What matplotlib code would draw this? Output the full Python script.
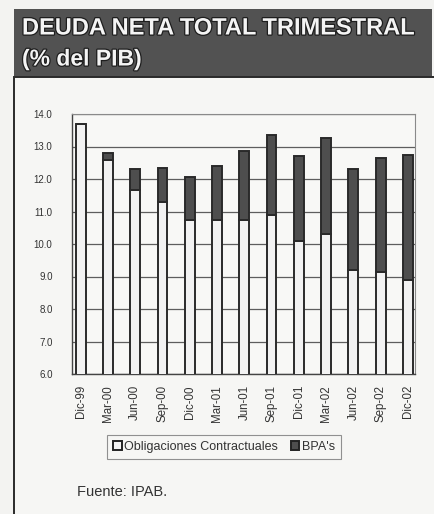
import numpy as np
import matplotlib.pyplot as plt
import matplotlib.patheffects as pe
from matplotlib.patches import Rectangle, Patch

plt.rcParams['font.family'] = ['Liberation Sans', 'DejaVu Sans']

# ── data ──────────────────────────────────────────────────────────────────
categories = ['Dic-99', 'Mar-00', 'Jun-00', 'Sep-00', 'Dic-00', 'Mar-01',
              'Jun-01', 'Sep-01', 'Dic-01', 'Mar-02', 'Jun-02', 'Sep-02',
              'Dic-02']
obligaciones = [13.7, 12.6, 11.65, 11.3, 10.75, 10.75, 10.75, 10.9, 10.1,
                10.3, 9.2, 9.15, 8.9]
bpas = [0.0, 0.2, 0.65, 1.05, 1.3, 1.65, 2.1, 2.45, 2.6, 2.95, 3.1, 3.5,
        3.85]
yticks = [6.0, 7.0, 8.0, 9.0, 10.0, 11.0, 12.0, 13.0, 14.0]

W, H = 435, 514
fig = plt.figure(figsize=(W / 100, H / 100), dpi=100)
fig.patch.set_facecolor('#f3f3f1')

# header band + box frame (behind the axes)
fig.patches.append(Rectangle((14 / W, 1 - 77 / H), 418 / W, 68 / H,
                             transform=fig.transFigure, facecolor='#525252',
                             edgecolor='none', zorder=-2))
fig.patches.append(Rectangle((14 / W, -0.01), 0.99, 1 - 77 / H + 0.01,
                             transform=fig.transFigure, facecolor='#f6f6f4',
                             edgecolor='#2a2a2a', lw=1.4, zorder=-2))

stroke = [pe.withStroke(linewidth=1.8, foreground='#1e1e1e')]
fig.text(22 / W, 1 - 28 / H, 'DEUDA NETA TOTAL TRIMESTRAL', color='#f4f4f4',
         fontsize=17, fontweight='bold', va='center', ha='left',
         path_effects=stroke)
fig.text(22 / W, 1 - 59 / H, '(% del PIB)', color='#f4f4f4',
         fontsize=16.5, fontweight='bold', va='center', ha='left',
         path_effects=stroke)

# ── chart ─────────────────────────────────────────────────────────────────
ax = fig.add_axes([72 / W, 1 - 374 / H, 343 / W, 260 / H], zorder=2)
ax.set_facecolor('#f8f8f6')
x = np.arange(len(categories))
obl = np.array(obligaciones)
bpa = np.array(bpas)

ax.bar(x, obl, width=0.36, color='#f2f2f2', edgecolor='#2a2a2a', lw=1.4,
       zorder=3)
ax.bar(x, bpa, bottom=obl, width=0.36, color='#4e4e4e', edgecolor='#2a2a2a',
       lw=1.4, zorder=3)

ax.set_ylim(6, 14)
ax.set_xlim(-0.32, len(categories) - 0.74)
ax.set_yticks(yticks)
ax.set_yticklabels([f'{v:.1f}' for v in yticks])
ax.set_xticks(x)
ax.set_xticklabels(categories, rotation=90)
ax.tick_params(axis='y', labelsize=7, colors='#333333', length=0, pad=14)
ax.tick_params(axis='x', labelsize=8.3, colors='#333333', length=0, pad=8)
ax.yaxis.grid(True, color='#5e5e5e', lw=0.9, zorder=0)
for side in ['left', 'bottom']:
    ax.spines[side].set_color('#444444')
    ax.spines[side].set_linewidth(1.0)
for side in ['top', 'right']:
    ax.spines[side].set_color('#8a8a8a')
    ax.spines[side].set_linewidth(0.8)

handles = [Patch(facecolor='#f2f2f2', edgecolor='#222222', lw=1.4),
           Patch(facecolor='#4e4e4e', edgecolor='#222222', lw=1.4)]
leg = fig.legend(handles, ['Obligaciones Contractuales', "BPA's"],
                 loc='center', bbox_to_anchor=(224 / W, 1 - 447 / H), ncol=2,
                 fontsize=9, frameon=True, fancybox=False,
                 edgecolor='#777777', facecolor='#f6f6f4', handlelength=0.7,
                 handleheight=0.7, handletextpad=0.2, columnspacing=1.0,
                 borderpad=0.45, labelcolor='#333333')
leg.get_frame().set_linewidth(0.8)

fig.text(77 / W, 1 - 492 / H, 'Fuente: IPAB.', fontsize=10.5, color='#333333',
         va='center', ha='left')

fig.savefig('out.png', dpi=100, facecolor=fig.get_facecolor())
